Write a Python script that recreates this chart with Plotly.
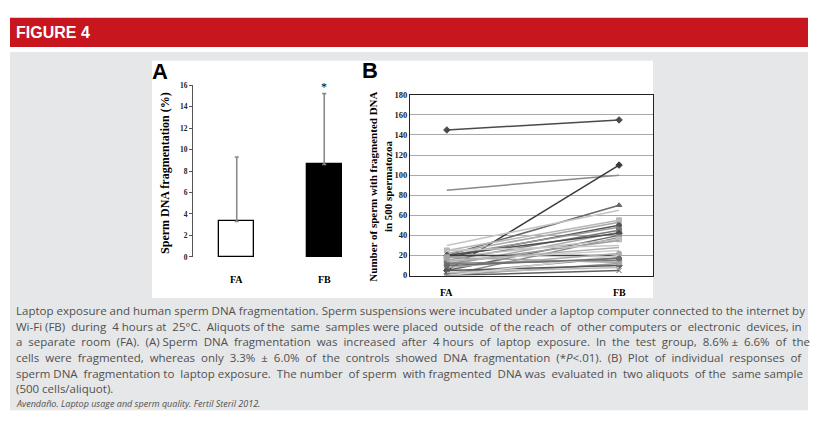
import plotly.graph_objects as go

W, H = 818, 427
def X(px): return px / W
def Y(py): return 1 - py / H

# ---------------- data ----------------
groups = ["FA", "FB"]
frag_mean = [3.3, 8.6]
frag_sd = [6.0, 6.6]

# panel B: individual samples (FA value, FB value)
fa_vals = [145, 85, 5, 20, 30, 25, 22, 18, 20, 15, 10, 20, 5, 0, 18, 12, 20, 15, 8, 2, 12, 0, 5, 0, 3, 18, 0, 10, 25, 14]
fb_vals = [155, 100, 110, 70, 65, 55, 53, 50, 48, 45, 43, 42, 40, 38, 36, 35, 20, 25, 22, 18, 15, 12, 10, 5, 8, 13, 20, 17, 30, 28]
line_colors = ["#4a4a4a", "#8a8a8a", "#3a3a3a", "#6a6a6a", "#c4c4c4", "#b8b8b8", "#a8a8a8", "#555555",
               "#9a9a9a", "#787878", "#acacac", "#4e4e4e", "#666666", "#8c8c8c", "#bdbdbd", "#9c9c9c",
               "#3c3c3c", "#cfcfcf", "#aaaaaa", "#888888", "#7a7a7a", "#999999", "#555555", "#5e5e5e",
               "#bbbbbb", "#a4a4a4", "#d0d0d0", "#6c6c6c", "#c8c8c8", "#b0b0b0"]
markers = ["diamond", None, "diamond", "triangle-up", None, "square", None, "circle", None, "square",
           None, "diamond", None, "square", "square", None, None, None, "circle", None,
           "square", None, "diamond", "x-thin", None, "square", None, "circle", None, None]
panelB_ticks = list(range(0, 181, 20))
panelA_ticks = list(range(0, 17, 2))

caption_lines = [
    "Laptop exposure and human sperm DNA fragmentation. Sperm suspensions were incubated under a laptop computer connected to the internet by",
    "Wi-Fi (FB) during 4 hours at 25°C. Aliquots of the same samples were placed outside of the reach of other computers or electronic devices, in",
    "a separate room (FA). (A) Sperm DNA fragmentation was increased after 4 hours of laptop exposure. In the test group, 8.6% ± 6.6% of the",
    "cells were fragmented, whereas only 3.3% ± 6.0% of the controls showed DNA fragmentation (*<i>P</i>&lt;.01). (B) Plot of individual responses of",
    "sperm DNA fragmentation to laptop exposure. The number of sperm with fragmented DNA was evaluated in two aliquots of the same sample",
    "(500 cells/aliquot).",
]
extra_spaces = [0, 12, 21, 20, 10, 0]   # approximate justification padding per line
citation = "Avendaño. Laptop usage and sperm quality. Fertil Steril 2012."

SERIF = "Liberation Serif, Times New Roman, serif"
SANS = "Liberation Sans, Arial, sans-serif"


def justify(line, n):
    words = line.split(" ")
    gaps = len(words) - 1
    if n <= 0 or gaps <= 0:
        return line
    out = words[0]
    for i in range(1, len(words)):
        add = round(n * i / gaps) - round(n * (i - 1) / gaps)
        out += " " + "\u00a0" * add + words[i]
    return out


fig = go.Figure()

# ---------------- panel A ----------------
fig.add_trace(go.Bar(
    x=groups, y=frag_mean, width=0.4,
    marker=dict(color=["white", "black"], line=dict(color="black", width=1.3)),
    error_y=dict(type="data", symmetric=False, array=frag_sd, arrayminus=[0, 0],
                 color="#8a8a8a", thickness=1.6, width=2),
    xaxis="x", yaxis="y", showlegend=False, hoverinfo="skip"))

# ---------------- panel B ----------------
for i in range(len(fa_vals)):
    m = markers[i]
    fig.add_trace(go.Scatter(
        x=[0, 1], y=[fa_vals[i], fb_vals[i]],
        mode="lines+markers" if m else "lines",
        line=dict(color=line_colors[i], width=1.5),
        marker=dict(symbol=m if m else "circle", size=5, color=line_colors[i],
                    line=dict(color=line_colors[i], width=1)),
        xaxis="x2", yaxis="y2", showlegend=False, hoverinfo="skip"))

shapes = [
    dict(type="rect", xref="paper", yref="paper", x0=X(10), x1=X(808), y0=Y(415), y1=Y(48),
         fillcolor="#e6e7e8", line=dict(width=0), layer="below"),
    dict(type="rect", xref="paper", yref="paper", x0=X(10), x1=X(808), y0=Y(43), y1=Y(13),
         fillcolor="#c8161e", line=dict(width=0), layer="below"),
    dict(type="rect", xref="paper", yref="paper", x0=X(152), x1=X(653), y0=Y(300), y1=Y(57),
         fillcolor="white", line=dict(width=0), layer="below"),
]

def pa(text, x, y, size, family, color="black", angle=0, xanchor="center"):
    return dict(text=text, x=X(x), y=Y(y), xref="paper", yref="paper", xanchor=xanchor,
                yanchor="middle", showarrow=False, textangle=angle,
                font=dict(family=family, size=size, color=color))

annotations = [
    pa("<b>FIGURE 4</b>", 14, 28, 16, SANS, "white", xanchor="left"),
    pa("<b>A</b>", 160, 68, 22, SANS),
    pa("<b>B</b>", 370, 67, 22, SANS),
    pa("<b>Sperm DNA fragmentation (%)</b>", 165, 172, 12, SERIF, angle=-90),
    pa("<b>Number of sperm with fragmented DNA<br>in 500 spermatozoa</b>", 380, 186, 11, SERIF, angle=-90),
    dict(text="*", x="FB", y=frag_mean[1] + frag_sd[1], xref="x", yref="y", xanchor="center",
         yanchor="bottom", showarrow=False, font=dict(family=SERIF, size=12, color="black"), yshift=-2),
]
for g in groups:
    annotations.append(dict(text="<b>%s</b>" % g, x=g, y=Y(281), xref="x", yref="paper",
                            xanchor="center", yanchor="middle", showarrow=False,
                            font=dict(family=SERIF, size=10, color="black")))
for i, g in enumerate(groups):
    annotations.append(dict(text="<b>%s</b>" % g, x=i, y=Y(294), xref="x2", yref="paper",
                            xanchor="center", yanchor="middle", showarrow=False,
                            font=dict(family=SERIF, size=10, color="black")))

cap_y0 = 313
for k, line in enumerate(caption_lines):
    annotations.append(pa(justify(line, extra_spaces[k]), 14, cap_y0 + 16 * k, 11.5,
                          "Open Sans, sans-serif", "#505050", xanchor="left"))
annotations.append(pa("<i>%s</i>" % citation, 14, 408, 9, "Open Sans, sans-serif", "#505050",
                      xanchor="left"))

fig.update_layout(
    width=W, height=H, margin=dict(l=0, r=0, t=0, b=0),
    paper_bgcolor="white", plot_bgcolor="rgba(0,0,0,0)",
    shapes=shapes, annotations=annotations, bargap=0,
    xaxis=dict(domain=[X(193), X(368)], range=[-0.5, 1.5], type="category",
               showline=False, showgrid=False, showticklabels=False, ticks="", zeroline=False),
    yaxis=dict(domain=[Y(258), Y(82)], range=[0, 16], tickvals=panelA_ticks,
               showline=True, linecolor="#555", linewidth=1, ticks="outside", ticklen=3,
               tickcolor="#555", showgrid=False, zeroline=False,
               tickfont=dict(family=SERIF, size=7.5, color="#222", weight="bold")),
    xaxis2=dict(domain=[X(410), X(653)], range=[-0.214, 1.197], showgrid=False,
                showticklabels=False, ticks="", zeroline=False, showline=True, mirror=True,
                linecolor="#222", linewidth=1.2, anchor="y2"),
    yaxis2=dict(domain=[Y(277), Y(92)], range=[0, 180], tickvals=panelB_ticks,
                showgrid=True, gridcolor="#a9a9a9", gridwidth=1, zeroline=False,
                showline=True, mirror=True, linecolor="#222", linewidth=1.2,
                ticks="", anchor="x2",
                tickfont=dict(family=SERIF, size=8.5, color="#222", weight="bold")),
)

fig.write_html("out.html")
